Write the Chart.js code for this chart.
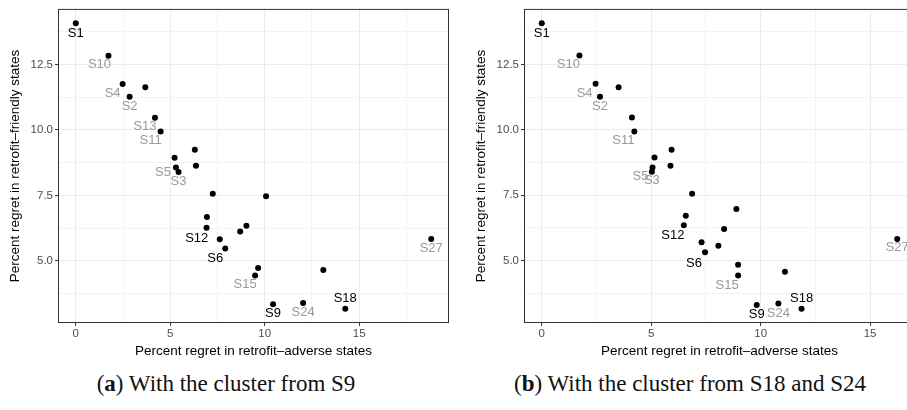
<!DOCTYPE html>
<html>
<head>
<meta charset="utf-8">
<script src="https://cdn.jsdelivr.net/npm/chart.js@4.4.1/dist/chart.umd.min.js"></script>
<style>
    body { margin: 0; width: 907px; height: 410px; overflow: hidden; background: #fff; position: relative; }
    .panel { position: absolute; top: 0; width: 453px; height: 362px; }
    #panelA { left: 0; }
    #panelB { left: 466px; }
    .caption { position: absolute; top: 371px; font-family: "Liberation Serif", "DejaVu Serif", serif; font-size: 23px; color: #111; white-space: nowrap; transform: translateX(-50%); }
</style>
</head>
<body>
<div class="panel" id="panelA"><canvas id="chartA"></canvas></div>
<div class="panel" id="panelB"><canvas id="chartB"></canvas></div>
<div class="caption" style="left:226px">(<b>a</b>) With the cluster from S9</div>
<div class="caption" style="left:690px">(<b>b</b>) With the cluster from S18 and S24</div>
<script>
// panel (a): with the cluster from S9
const xA = [0, 1.73, 2.48, 3.68, 2.85, 4.19, 4.49, 5.23, 6.30, 5.30, 5.44, 6.36, 7.25, 6.94, 6.92, 7.62, 7.91, 10.07, 8.70, 9.03, 9.65, 9.49, 10.44, 12.03, 13.10, 14.26, 18.81];
const yA = [14.08, 12.84, 11.76, 11.63, 11.27, 10.47, 9.94, 8.94, 9.24, 8.57, 8.39, 8.63, 7.56, 6.67, 6.26, 5.82, 5.47, 7.47, 6.12, 6.34, 4.73, 4.44, 3.34, 3.39, 4.65, 3.17, 5.83];
const labelsA = ['S1', 'S10', 'S4', '', 'S2', 'S13', 'S11', '', '', 'S5', 'S3', '', '', '', '', 'S12', 'S6', '', '', '', '', 'S15', 'S9', 'S24', '', 'S18', 'S27'];

// panel (b): with the cluster from S18 and S24
const xB = [0, 1.72, 2.46, 3.51, 2.66, 4.12, 4.23, 5.15, 5.93, 5.06, 5.03, 5.88, 6.87, 6.58, 6.49, 8.89, 8.33, 7.30, 7.46, 8.07, 8.97, 8.97, 11.11, 9.82, 10.81, 11.87, 16.24];
const yB = [14.08, 12.84, 11.76, 11.63, 11.27, 10.47, 9.94, 8.94, 9.24, 8.56, 8.40, 8.63, 7.56, 6.72, 6.35, 6.97, 6.21, 5.70, 5.32, 5.57, 4.84, 4.43, 4.57, 3.30, 3.36, 3.16, 5.83];
const labelsB = ['S1', 'S10', 'S4', '', 'S2', '', 'S11', '', '', 'S5', 'S3', '', '', '', 'S12', '', '', '', 'S6', '', '', 'S15', '', 'S9', 'S24', 'S18', 'S27'];

// scenarios whose labels are drawn in black, the rest are grey
const blackLabels = ['S1', 'S6', 'S9', 'S12', 'S18'];

// axis breaks
const xBreaks = [0, 5, 10, 15];
const yBreaks = [5, 7.5, 10, 12.5];

// label nudges in pixels (dx, dy)
const nudgeA = { S1: [0, 10], S10: [-9, 9], S4: [-10, 10], S2: [0, 10], S13: [-10, 9], S11: [-10, 9], S5: [-13, 5], S3: [0, 9],
    S12: [-23, -1], S6: [-10, 10], S15: [-10, 9], S9: [0, 9], S24: [0, 9], S18: [0, -10], S27: [0, 9] };
const nudgeB = { S1: [0, 10], S10: [-11, 9], S4: [-11, 10], S2: [0, 10], S11: [-11, 9], S5: [-12, 9], S3: [0, 9],
    S12: [-11, 10], S6: [-11, 11], S15: [-11, 10], S9: [0, 9], S24: [0, 10], S18: [0, -10], S27: [0, 9] };

Chart.defaults.font.family = '"Liberation Sans", Arial, sans-serif';

// ggplot style 5% expansion of the data range
function expand(vals) {
    const lo = Math.min(...vals), hi = Math.max(...vals);
    const pad = (hi - lo) * 0.05;
    return [lo - pad, hi + pad];
}

// major breaks plus minor lines half way between them
function gridValues(breaks, lo, hi) {
    const half = (breaks[1] - breaks[0]) / 2;
    const out = [];
    for (let v = breaks[0] - half; v <= breaks[breaks.length - 1] + half + 1e-9; v += half) {
        if (v >= lo && v <= hi) out.push(Math.round(v * 100) / 100);
    }
    return out;
}

const frame = {
    id: 'frame',
    afterDraw(chart) {
        const { ctx, chartArea: a } = chart;
        ctx.save();
        ctx.strokeStyle = '#333';
        ctx.lineWidth = 1;
        ctx.strokeRect(a.left + 0.5, a.top + 0.5, a.right - a.left - 1, a.bottom - a.top - 1);
        ctx.restore();
    }
};

const pointLabels = {
    id: 'pointLabels',
    afterDatasetsDraw(chart, args, opts) {
        const ctx = chart.ctx;
        const meta = chart.getDatasetMeta(0);
        ctx.save();
        ctx.font = '13px "Liberation Sans", Arial, sans-serif';
        ctx.textAlign = 'center';
        ctx.textBaseline = 'middle';
        opts.labels.forEach((lab, i) => {
            if (!lab) return;
            const p = meta.data[i];
            const d = opts.nudge[lab] || [0, 10];
            ctx.fillStyle = blackLabels.includes(lab) ? '#000' : '#999';
            ctx.fillText(lab, p.x + d[0], p.y + d[1]);
        });
        ctx.restore();
    }
};

function axis(title, breaks, range, fmt, isX) {
    const lines = gridValues(breaks, range[0], range[1]);
    const isMajor = v => breaks.includes(v);
    return {
        type: 'linear',
        position: isX ? 'bottom' : 'left',
        min: range[0],
        max: range[1],
        afterBuildTicks: scale => { scale.ticks = lines.map(v => ({ value: v })); },
        afterFit: scale => { if (isX) scale.height = 39; else scale.width = 58; },
        border: { display: false },
        grid: {
            color: '#ebebeb',
            lineWidth: c => (c.tick && isMajor(c.tick.value)) ? 1.1 : 0.6,
            tickColor: c => (c.tick && isMajor(c.tick.value)) ? '#333' : 'rgba(0,0,0,0)',
            tickWidth: 1,
            tickLength: 3
        },
        ticks: {
            autoSkip: false,
            maxRotation: 0,
            color: '#4d4d4d',
            font: { size: 11.5 },
            padding: isX ? 1 : 2,
            callback: v => isMajor(v) ? fmt(v) : ''
        },
        title: {
            display: true,
            text: title,
            color: '#000',
            font: { size: 13.5 },
            padding: isX ? { top: 0, bottom: 3 } : { top: 7, bottom: 0 }
        }
    };
}

function drawPanel(id, xs, ys, labels, nudge) {
    const points = xs.map((x, i) => ({ x: x, y: ys[i] }));
    new Chart(document.getElementById(id), {
        type: 'scatter',
        data: {
            datasets: [{
                data: points,
                backgroundColor: '#000',
                borderWidth: 0,
                pointRadius: 3
            }]
        },
        options: {
            responsive: true,
            maintainAspectRatio: false,
            animation: false,
            events: [],
            layout: { padding: { top: 8, right: 4, left: 0, bottom: 0 } },
            plugins: {
                legend: { display: false },
                tooltip: { enabled: false },
                pointLabels: { labels: labels, nudge: nudge }
            },
            scales: {
                x: axis('Percent regret in retrofit\u2013adverse states', xBreaks, expand(xs), v => String(v), true),
                y: axis('Percent regret in retrofit\u2013friendly states', yBreaks, expand(ys), v => v.toFixed(1), false)
            }
        },
        plugins: [pointLabels, frame]
    });
}

drawPanel('chartA', xA, yA, labelsA, nudgeA);
drawPanel('chartB', xB, yB, labelsB, nudgeB);
</script>
</body>
</html>
